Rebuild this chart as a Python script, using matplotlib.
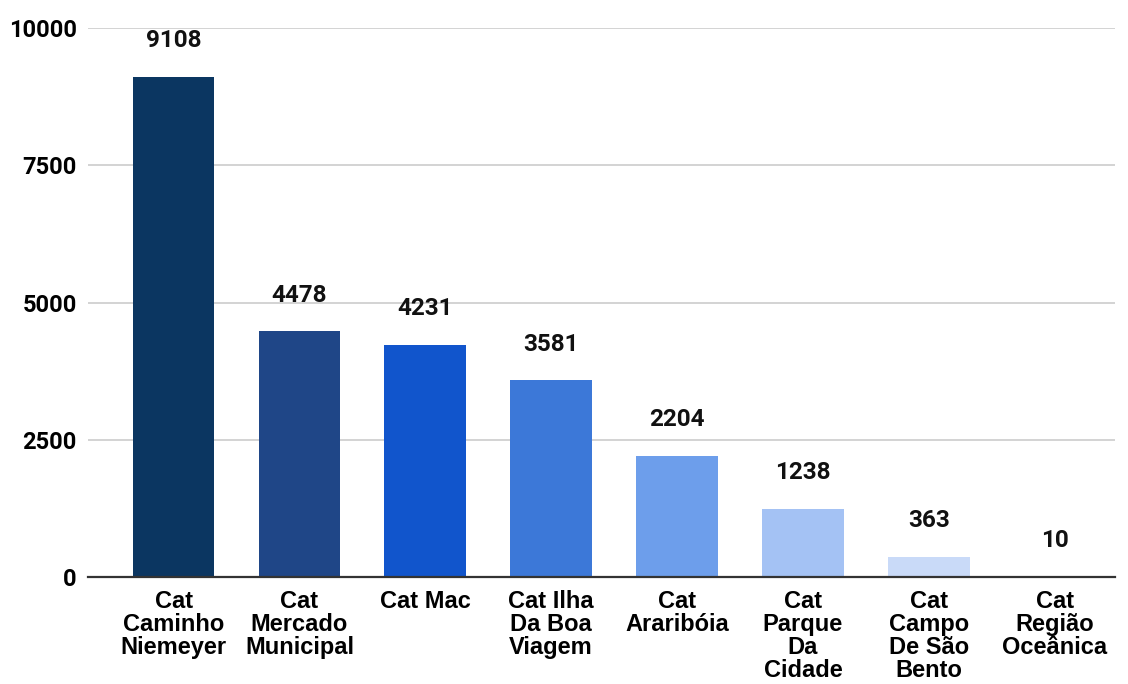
import matplotlib
matplotlib.use('Agg')
import matplotlib.pyplot as plt

categories = ['Cat\nCaminho\nNiemeyer', 'Cat\nMercado\nMunicipal', 'Cat Mac', 'Cat Ilha\nDa Boa\nViagem',
              'Cat\nAraribóia', 'Cat\nParque\nDa\nCidade', 'Cat\nCampo\nDe São\nBento', 'Cat\nRegião\nOceânica']
values = [9108, 4478, 4231, 3581, 2204, 1238, 363, 10]
colors = ['#0b3661', '#1f4687', '#1155cc', '#3c78d8', '#6d9eeb', '#a4c2f4', '#c9daf8', '#dde8fb']
yticks = [0, 2500, 5000, 7500, 10000]

fig = plt.figure(figsize=(11.28, 6.84), dpi=100)
ax = fig.add_axes([0.078, 0.1564, 0.9105, 0.8026])

x = list(range(len(values)))
bars = ax.bar(x, values, width=0.65, color=colors, zorder=3)

# value labels above each bar
for xi, v in zip(x, values):
    ax.annotate(str(v), (xi, v), xytext=(0, 26), textcoords='offset points',
                ha='center', va='center', fontsize=17.5, fontweight='bold',
                family='Roboto', color='#111111')

ax.set_ylim(0, 10000)
ax.set_xlim(-0.68, 7.48)
ax.set_yticks(yticks)
ax.set_yticklabels([str(t) for t in yticks], fontsize=17, fontweight='bold', family='Roboto')
ax.set_xticks(x)
ax.set_xticklabels(categories, fontsize=17, fontweight='bold', family='Liberation Sans',
                   linespacing=1.0, va='top')
ax.tick_params(axis='both', length=0)
ax.tick_params(axis='y', pad=8)
ax.tick_params(axis='x', pad=9)

ax.grid(axis='y', color='#cccccc', linewidth=1.2, zorder=0)
for s in ['top', 'right', 'left']:
    ax.spines[s].set_visible(False)
ax.spines['bottom'].set_color('#333333')
ax.spines['bottom'].set_linewidth(1.6)
ax.spines['bottom'].set_zorder(4)

fig.savefig('out.png', dpi=100)
